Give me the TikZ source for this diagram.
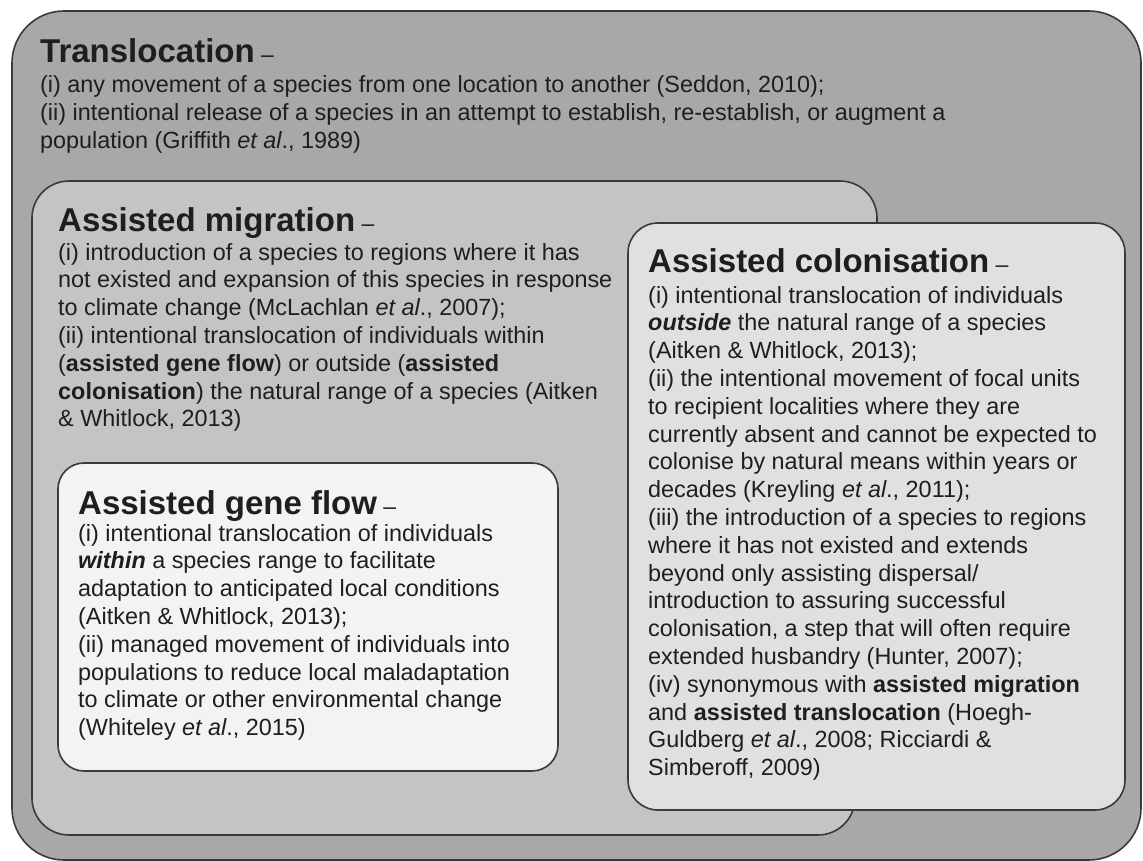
\documentclass[tikz,border=0pt]{standalone}
\usepackage{fontspec}
\setmainfont{Liberation Sans}
\definecolor{outerfill}{HTML}{A8A8A8}
\definecolor{migfill}{HTML}{C4C4C4}
\definecolor{colfill}{HTML}{E0E0E0}
\definecolor{genefill}{HTML}{F3F3F3}
\definecolor{txt}{HTML}{1E1E1E}
\definecolor{edge}{HTML}{3A3A3A}
\newcommand{\headdash}{{\fontsize{23}{27.8}\selectfont\mdseries\ –}}
\begin{document}
\begin{tikzpicture}[x=1pt,y=-1pt,
  boxline/.style={draw=edge, line width=1.6pt},
  heading/.style={anchor=base west, inner sep=0pt, text=txt, font=\fontsize{33}{38}\selectfont\bfseries},
  body/.style={anchor=base west, inner sep=0pt, text=txt, font=\fontsize{23.4}{27.8}\selectfont}]
\useasboundingbox (0,0) rectangle (1143,861);
\clip (0,0) rectangle (1143,861);

% nested category boxes
\draw[boxline, fill=outerfill, rounded corners=52pt] (12,11) rectangle (1141,860);
\draw[boxline, fill=migfill, rounded corners=37pt]
  (32,181) -- (877,181) -- (877,480) -- (855,600) -- (855,835) -- (32,835) -- cycle;
\draw[boxline, fill=colfill, rounded corners=30pt] (628,223) rectangle (1125,810);
\draw[boxline, fill=genefill, rounded corners=26pt] (58,463) rectangle (558,771);

% Translocation
\node[heading] (transT) at (40,63) {Translocation\headdash};
\node[body] (transB) at (40,93) {\parbox[t]{1090pt}{\raggedright
(i) any movement of a species from one location to another (Seddon, 2010);\\
(ii) intentional release of a species in an attempt to establish, re-establish, or augment a\\
population (Griffith \textit{et al}., 1989)}};

% Assisted migration
\node[heading] (migT) at (58,232) {Assisted migration\headdash};
\node[body] (migB) at (58,260) {\parbox[t]{700pt}{\raggedright
(i) introduction of a species to regions where it has\\
not existed and expansion of this species in response\\
to climate change (McLachlan \textit{et al}., 2007);\\
(ii) intentional translocation of individuals within\\
(\textbf{assisted gene flow}) or outside (\textbf{assisted}\\
\textbf{colonisation}) the natural range of a species (Aitken\\
\& Whitlock, 2013)}};

% Assisted gene flow
\node[heading] (geneT) at (78,514) {Assisted gene flow\headdash};
\node[body] (geneB) at (78,541) {\parbox[t]{700pt}{\raggedright
(i) intentional translocation of individuals\\
\textbf{\textit{within}} a species range to facilitate\\
adaptation to anticipated local conditions\\
(Aitken \& Whitlock, 2013);\\
(ii) managed movement of individuals into\\
populations to reduce local maladaptation\\
to climate or other environmental change\\
(Whiteley \textit{et al}., 2015)}};

% Assisted colonisation
\node[heading] (colT) at (648,272) {Assisted colonisation\headdash};
\node[body] (colB) at (648,303) {\parbox[t]{700pt}{\raggedright
(i) intentional translocation of individuals\\
\textbf{\textit{outside}} the natural range of a species\\
(Aitken \& Whitlock, 2013);\\
(ii) the intentional movement of focal units\\
to recipient localities where they are\\
currently absent and cannot be expected to\\
colonise by natural means within years or\\
decades (Kreyling \textit{et al}., 2011);\\
(iii) the introduction of a species to regions\\
where it has not existed and extends\\
beyond only assisting dispersal/\\
introduction to assuring successful\\
colonisation, a step that will often require\\
extended husbandry (Hunter, 2007);\\
(iv) synonymous with \textbf{assisted migration}\\
and \textbf{assisted translocation} (Hoegh-\\
Guldberg \textit{et al}., 2008; Ricciardi \&\\
Simberoff, 2009)}};
\end{tikzpicture}
\end{document}
